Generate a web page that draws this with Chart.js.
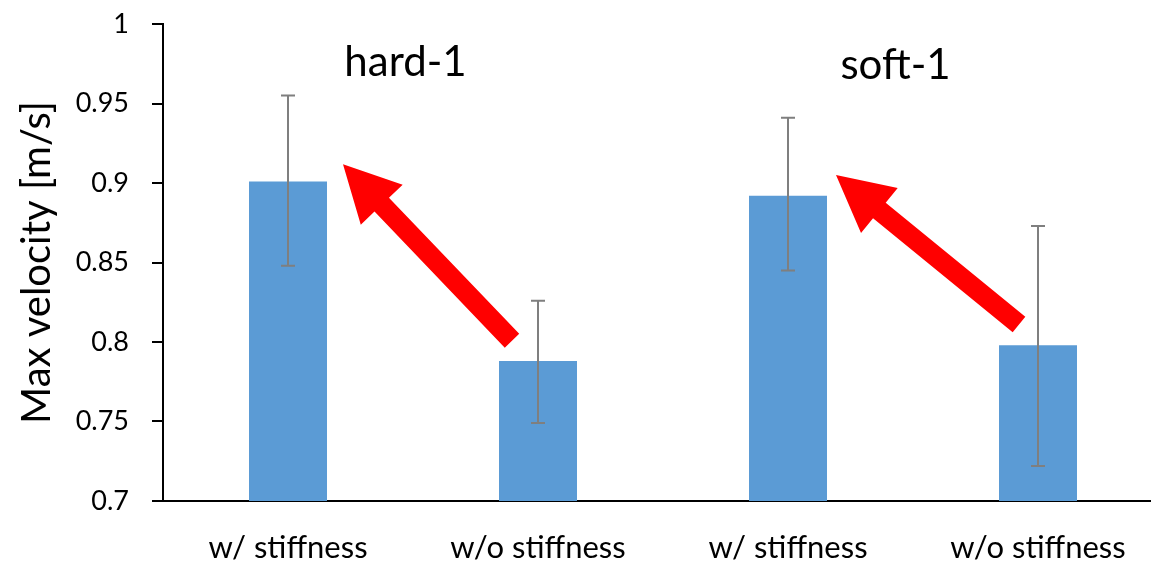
<!DOCTYPE html>
<html>
<head>
<meta charset="utf-8">
<script src="https://cdn.jsdelivr.net/npm/chart.js@4.4.1/dist/chart.umd.min.js"></script>
<style>
  html, body { margin: 0; padding: 0; background: #fff; overflow: hidden; }
  #wrap { width: 1165px; height: 564px; }
</style>
</head>
<body>
<div id="wrap"><canvas id="velChart" width="1165" height="564"></canvas></div>
<script>
// Data
const categories = ['w/ stiffness', 'w/o stiffness', 'w/ stiffness', 'w/o stiffness'];
const maxVelocity = [0.901, 0.788, 0.892, 0.798];
const errLow = [0.848, 0.749, 0.845, 0.722];
const errHigh = [0.955, 0.826, 0.941, 0.873];
const groupLabels = ['hard-1', 'soft-1'];
const yTicks = [0.7, 0.75, 0.8, 0.85, 0.9, 0.95, 1];

const FONT = 'Lato, "Noto Sans", sans-serif';

// error bars drawn on top of each bar
const errorBars = {
    id: 'errorBars',
    afterDatasetsDraw(chart) {
        const ctx = chart.ctx;
        const y = chart.scales.y;
        const meta = chart.getDatasetMeta(0);
        ctx.save();
        ctx.strokeStyle = '#7f7f7f';
        ctx.lineWidth = 2;
        meta.data.forEach((bar, i) => {
            const yLo = y.getPixelForValue(errLow[i]);
            const yHi = y.getPixelForValue(errHigh[i]);
            ctx.beginPath();
            ctx.moveTo(bar.x, yLo); ctx.lineTo(bar.x, yHi);
            ctx.moveTo(bar.x - 7, yLo); ctx.lineTo(bar.x + 7, yLo);
            ctx.moveTo(bar.x - 7, yHi); ctx.lineTo(bar.x + 7, yHi);
            ctx.stroke();
        });
        ctx.restore();
    }
};

// red arrows + group labels, placed in data coordinates
const annotations = {
    id: 'annotations',
    afterDatasetsDraw(chart, args, opts) {
        const ctx = chart.ctx;
        const xs = chart.scales.x, ys = chart.scales.y;
        const px = p => ({ x: xs.getPixelForValue(p.x), y: ys.getPixelForValue(p.y) });
        ctx.save();
        ctx.fillStyle = '#ff0000';
        opts.arrows.forEach(a => {
            const t = px(a.from), h = px(a.to);
            const dx = h.x - t.x, dy = h.y - t.y;
            const len = Math.hypot(dx, dy);
            const ux = dx / len, uy = dy / len, nx = -uy, ny = ux;
            const sw = 10, hl = 56, hw = 29;
            const bx = h.x - ux * hl, by = h.y - uy * hl;
            ctx.beginPath();
            ctx.moveTo(t.x + nx * sw, t.y + ny * sw);
            ctx.lineTo(bx + nx * sw, by + ny * sw);
            ctx.lineTo(bx + nx * hw, by + ny * hw);
            ctx.lineTo(h.x, h.y);
            ctx.lineTo(bx - nx * hw, by - ny * hw);
            ctx.lineTo(bx - nx * sw, by - ny * sw);
            ctx.lineTo(t.x - nx * sw, t.y - ny * sw);
            ctx.closePath();
            ctx.fill();
        });
        ctx.fillStyle = '#000';
        ctx.font = '42px ' + FONT;
        ctx.textAlign = 'center';
        ctx.textBaseline = 'middle';
        opts.labels.forEach((l, i) => {
            const p = px(l);
            ctx.fillText(groupLabels[i], p.x, p.y);
        });
        ctx.restore();
    }
};

const ctxVel = document.getElementById('velChart').getContext('2d');
const velChart = new Chart(ctxVel, {
    type: 'bar',
    data: {
        labels: categories,
        datasets: [{
            data: maxVelocity,
            backgroundColor: '#5b9bd5',
            borderWidth: 0,
            categoryPercentage: 1,
            barPercentage: 0.312
        }]
    },
    plugins: [errorBars, annotations],
    options: {
        responsive: false,
        animation: false,
        layout: { padding: { top: 24, right: 2 } },
        plugins: {
            legend: { display: false },
            tooltip: { enabled: false },
            annotations: {
                arrows: [
                    { from: { x: 0.896, y: 0.8008 }, to: { x: 0.22, y: 0.9118 } },
                    { from: { x: 2.924, y: 0.811 }, to: { x: 2.192, y: 0.905 } }
                ],
                labels: [
                    { x: 0.47, y: 0.976 },
                    { x: 2.43, y: 0.974 }
                ]
            }
        },
        scales: {
            x: {
                grid: { display: false, drawTicks: false },
                border: { display: true, color: '#000', width: 2 },
                ticks: { color: '#000', font: { family: FONT, size: 31 }, padding: 28, maxRotation: 0 },
                afterFit(s) { s.height = 63; }
            },
            y: {
                min: 0.7,
                max: 1,
                afterBuildTicks(s) { s.ticks = yTicks.map(v => ({ value: v })); },
                grid: { drawOnChartArea: false, drawTicks: true, tickLength: 11, color: '#000', lineWidth: 2 },
                border: { display: true, color: '#000', width: 2 },
                ticks: {
                    color: '#000',
                    font: { family: FONT, size: 27 },
                    padding: 23,
                    callback: v => String(+v.toFixed(2))
                },
                title: {
                    display: true,
                    text: 'Max velocity [m/s]',
                    color: '#000',
                    font: { family: FONT, size: 40 },
                    padding: { top: 13, bottom: 0 }
                },
                afterFit(s) {
                    s.width = 163;
                    s.paddingTop = 0;
                    s.paddingBottom = 0;
                }
            }
        }
    }
});
</script>
</body>
</html>
